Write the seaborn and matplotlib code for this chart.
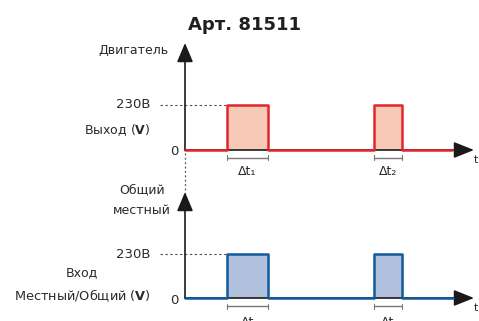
import matplotlib
matplotlib.use("Agg")
import matplotlib.pyplot as plt
import seaborn as sns
import pandas as pd

# ---- data ----
title = "Арт. 81511"
out_times = [0, 3.0, 5.93, 13.5, 15.5, 19.07]
out_volts = [0, 230, 0, 230, 0, 0]
in_times = [0, 3.0, 5.93, 13.5, 15.5, 19.14]
in_volts = [0, 230, 0, 230, 0, 0]
level_label = "230В"
zero_label = "0"
top_axis_label = "Двигатель"
top_side_label = "Выход ($\\mathbf{V}$)"
bottom_axis_label = ["Общий", "местный"]
bottom_side_label = ["Вход", "Местный/Общий ($\\mathbf{V}$)"]
upper_dt_labels = ["Δt₁", "Δt₂"]
lower_dt_labels = ["Δt", "Δt"]
time_label = "t"

sns.set_theme(style="white")
plt.rcParams["font.family"] = ["DejaVu Sans"]
plt.rcParams["mathtext.fontset"] = "dejavusans"

W, H = 479, 321
fig = plt.figure(figsize=(W / 100, H / 100), dpi=100)

PX = 14.0          # pixels per time unit
X0 = 185           # pixel of t = 0
xlim = (-X0 / PX, (W - X0) / PX)

txt = "#2a2a2a"


def make_axes(top_px, bot_px, zero_px, v_per_px):
    ax = fig.add_axes([0, 1 - bot_px / H, 1, (bot_px - top_px) / H])
    ax.set_xlim(*xlim)
    ax.set_ylim((zero_px - bot_px) * v_per_px, (zero_px - top_px) * v_per_px)
    ax.patch.set_alpha(0)
    return ax


vpp_u = 230 / 45.0
vpp_l = 230 / 44.0
ax_u = make_axes(35, 175, 150, vpp_u)
ax_l = make_axes(180, 321, 298, vpp_l)


def draw_panel(ax, times, volts, line_c, fill_c, vpp, ytip_px, zero_px, dt_labels, dt_y_px):
    # axes arrows
    ytip = (zero_px - ytip_px) * vpp
    xtip = (474 - X0) / PX
    ax.annotate("", xy=(0, ytip), xytext=(0, 0),
                arrowprops=dict(arrowstyle="-|>,head_length=0.9,head_width=0.38",
                                color="#1a1a1a", lw=1.2, mutation_scale=13,
                                shrinkA=0, shrinkB=0))
    ax.annotate("", xy=(xtip, 0), xytext=(0, 0),
                arrowprops=dict(arrowstyle="-|>,head_length=0.95,head_width=0.38",
                                color="#1a1a1a", lw=1.2, mutation_scale=13,
                                shrinkA=0, shrinkB=0))
    # fill + signal
    ax.fill_between(times, volts, step="post", color=fill_c, lw=0, zorder=2)
    df = pd.DataFrame({"t": times, "v": volts})
    sns.lineplot(data=df, x="t", y="v", ax=ax, color=line_c, lw=1.8,
                 drawstyle="steps-post", estimator=None, sort=False, zorder=3)
    # dashed level
    ax.plot([(160 - X0) / PX, times[1]], [230, 230], color="#555555",
            lw=0.8, ls=(0, (2.2, 2.2)), zorder=1)
    # brackets
    by = (zero_px - (zero_px + 8)) * vpp
    th = 2.5 * vpp
    starts = [times[1], times[3]]
    ends = [times[2], times[4]]
    for s, e, lab in zip(starts, ends, dt_labels):
        ax.plot([s, e], [by, by], color="#777777", lw=1.0, clip_on=False)
        for xx in (s, e):
            ax.plot([xx, xx], [by - th, by + th], color="#777777", lw=0.8, clip_on=False)
        ax.text((s + e) / 2, (zero_px - dt_y_px) * vpp, lab, ha="center", va="center",
                fontsize=9, color=txt, clip_on=False)
    # labels
    ax.text((151 - X0) / PX, 230, level_label, ha="right", va="center",
            fontsize=9.5, color=txt)
    ax.text((179 - X0) / PX, -2 * vpp, zero_label, ha="right", va="center",
            fontsize=9.5, color=txt)
    ax.text((476 - X0) / PX, -10 * vpp, time_label, ha="center", va="center",
            fontsize=8, color=txt, clip_on=False)
    ax.axis("off")


draw_panel(ax_u, out_times, out_volts, "#e2262b", "#f7c9b6", vpp_u, 43, 150,
           upper_dt_labels, 172)
draw_panel(ax_l, in_times, in_volts, "#115a9c", "#b0c0dd", vpp_l, 192, 298,
           lower_dt_labels, 322)

# connector dotted line between panels
ax_u.plot([0, 0], [-3 * vpp_u, (150 - 193) * vpp_u], color="#555555", lw=0.9,
          ls=(0, (1.5, 2.0)), clip_on=False, zorder=1)

# text labels
ax_u.text((169 - X0) / PX, (150 - 50) * vpp_u, top_axis_label, ha="right",
          va="center", fontsize=9, color=txt)
ax_u.text((150 - X0) / PX, (150 - 130) * vpp_u, top_side_label, ha="right",
          va="center", fontsize=9, color=txt)
ax_l.text((142 - X0) / PX, (298 - 190) * vpp_l, bottom_axis_label[0], ha="center",
          va="center", fontsize=9, color=txt)
ax_l.text((142 - X0) / PX, (298 - 211) * vpp_l, bottom_axis_label[1], ha="center",
          va="center", fontsize=9, color=txt)
ax_l.text((82 - X0) / PX, (298 - 273) * vpp_l, bottom_side_label[0], ha="center",
          va="center", fontsize=9, color=txt)
ax_l.text((82 - X0) / PX, (298 - 296) * vpp_l, bottom_side_label[1], ha="center",
          va="center", fontsize=9.3, color=txt)

fig.text(244 / W, 1 - 25 / H, title, ha="center", va="center", fontsize=13,
         fontweight="bold", color="#1f1f1f")

fig.savefig("out.png", dpi=100)
